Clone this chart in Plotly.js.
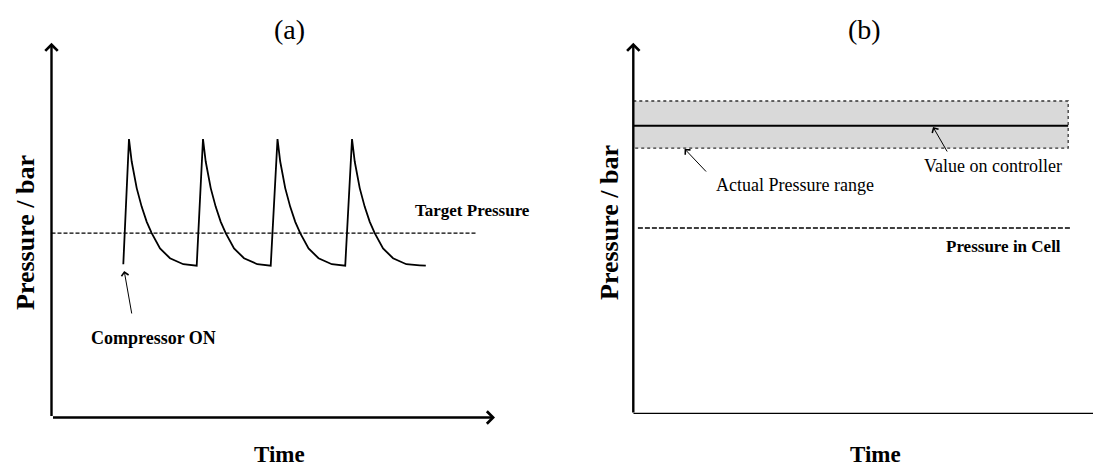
<!DOCTYPE html>
<html>
<head>
<meta charset="utf-8">
<script src="https://cdn.plot.ly/plotly-3.0.1.min.js"></script>
<style>
html,body{margin:0;padding:0;background:#fff;}
#chart{width:1093px;height:470px;}
</style>
</head>
<body>
<div id="chart"></div>
<script>
// ---------- data (arbitrary units) ----------
// Panel (a): pressure cycles of the compressor
const timeA = [16.19, 17.47, 18.08, 19.21, 20.34, 21.47, 22.59, 24.47, 26.72, 29.72, 32.74,
               34.16, 34.77, 35.90, 37.03, 38.16, 39.28, 41.16, 43.41, 46.41, 49.43,
               50.96, 51.57, 52.70, 53.83, 54.96, 56.08, 57.96, 60.21, 63.21, 66.23,
               67.76, 68.37, 69.50, 70.63, 71.76, 72.88, 74.76, 77.01, 80.01, 83.03, 84.40];
const pressureA = [40.9, 74.3, 68.3, 61.2, 56.2, 52.2, 49.2, 45.1, 42.5, 40.9, 40.5,
                   74.3, 68.3, 61.2, 56.2, 52.2, 49.2, 45.1, 42.5, 40.9, 40.5,
                   74.3, 68.3, 61.2, 56.2, 52.2, 49.2, 45.1, 42.5, 40.9, 40.5,
                   74.3, 68.3, 61.2, 56.2, 52.2, 49.2, 45.1, 42.5, 40.9, 40.6, 40.5];
const targetX = [0, 95.7];
const targetY = [49.2, 49.2];

// Panel (b): controller value, actual range, cell pressure
const bandX = [0, 94.6, 94.6, 0, 0];
const bandY = [84.3, 84.3, 71.6, 71.6, 84.3];
const controllerX = [0, 94.6];
const controllerY = [77.6, 77.6];
const cellX = [1.0, 95.4];
const cellY = [50.1, 50.1];

// Texts
const panelTitles = ["(a)", "(b)"];
const xTitle = "Time";
const yTitle = "Pressure / bar";
const labelsA = ["Target Pressure", "Compressor ON"];
const labelsB = ["Value on controller", "Actual Pressure range", "Pressure in Cell"];

// ---------- layout helpers ----------
const W = 1093, H = 470;
const serif = "Liberation Serif, Times New Roman, serif";
function px2paperX(p){ return p / W; }
function px2paperY(p){ return 1 - p / H; }

const traces = [
  {x: timeA, y: pressureA, xaxis: 'x', yaxis: 'y', mode: 'lines',
   line: {color: '#000', width: 1.8}, hoverinfo: 'skip'},
  {x: targetX, y: targetY, xaxis: 'x', yaxis: 'y', mode: 'lines',
   line: {color: '#000', width: 1.2, dash: '4px,2px'}, hoverinfo: 'skip'},
  {x: bandX, y: bandY, xaxis: 'x2', yaxis: 'y2', mode: 'lines', fill: 'toself',
   fillcolor: '#d9d9d9', line: {color: '#333', width: 1.3, dash: 'dot'}, hoverinfo: 'skip'},
  {x: controllerX, y: controllerY, xaxis: 'x2', yaxis: 'y2', mode: 'lines',
   line: {color: '#000', width: 2}, hoverinfo: 'skip'},
  {x: cellX, y: cellY, xaxis: 'x2', yaxis: 'y2', mode: 'lines',
   line: {color: '#000', width: 1.5, dash: '5px,2px'}, hoverinfo: 'skip'}
];

const hiddenAxis = {range: [0, 100], showgrid: false, zeroline: false, showticklabels: false,
                    showline: false, ticks: '', fixedrange: true};

function arrow(xr, yr, x, y, ax, ay, width, size){
  return {xref: xr, yref: yr, axref: xr, ayref: yr, x: x, y: y, ax: ax, ay: ay,
          text: '', showarrow: true, arrowhead: 4, arrowsize: size, arrowwidth: width,
          arrowcolor: '#000', standoff: 0, startstandoff: 0};
}
function label(xr, yr, x, y, text, size, bold, angle){
  return {xref: xr, yref: yr, x: x, y: y, text: text, showarrow: false,
          xanchor: 'center', yanchor: 'middle', textangle: angle || 0,
          font: {family: serif, size: size, color: '#000', weight: bold ? 'bold' : 'normal'}};
}

const annotations = [
  // axes with arrowheads
  arrow('x', 'y', 0, 100, 0, 0, 2.4, 1),
  arrow('x', 'y', 100, 0, 0, 0, 2.4, 1),
  arrow('x2', 'y2', 0, 100, 0, 0, 2.4, 1),
  // pointer arrows
  arrow('x', 'y', 16.39, 39.1, 18.15, 27.35, 1, 1.4),
  arrow('x2', 'y2', 65.2, 77.3, 68.46, 70.3, 1, 1.4),
  arrow('x2', 'y2', 11.16, 71.4, 16.14, 64.9, 1, 1.4),
  // labels
  label('x', 'y', 94.88, 55.1, labelsA[0], 17, true),
  label('x', 'y', 23.0, 21.2, labelsA[1], 18, true),
  label('x2', 'y2', 78.25, 66.8, labelsB[0], 18, false),
  label('x2', 'y2', 35.1, 61.7, labelsB[1], 18, false),
  label('x2', 'y2', 80.6, 45.0, labelsB[2], 17, true),
  // titles
  label('paper', 'paper', px2paperX(289), px2paperY(30), panelTitles[0], 28, false),
  label('paper', 'paper', px2paperX(864), px2paperY(30), panelTitles[1], 28, false),
  label('paper', 'paper', px2paperX(279), px2paperY(454), xTitle, 23, true),
  label('paper', 'paper', px2paperX(875), px2paperY(454), xTitle, 23, true),
  label('paper', 'paper', px2paperX(25), px2paperY(233), yTitle, 26, true, -90),
  label('paper', 'paper', px2paperX(610), px2paperY(223), yTitle, 26, true, -90)
];

const shapes = [
  {type: 'line', xref: 'x2', yref: 'y2', x0: 0, y0: 0, x1: 100, y1: 0,
   line: {color: '#000', width: 2.4}}
];

const layout = {
  width: W, height: H, autosize: false,
  margin: {l: 0, r: 0, t: 0, b: 0},
  paper_bgcolor: '#fff', plot_bgcolor: 'rgba(0,0,0,0)',
  showlegend: false,
  xaxis: Object.assign({}, hiddenAxis, {domain: [51.5 / W, 495 / W], anchor: 'y'}),
  yaxis: Object.assign({}, hiddenAxis, {domain: [(H - 417.5) / H, (H - 42.7) / H], anchor: 'x'}),
  xaxis2: Object.assign({}, hiddenAxis, {domain: [633.3 / W, 1], anchor: 'y2'}),
  yaxis2: Object.assign({}, hiddenAxis, {domain: [(H - 414) / H, (H - 42.7) / H], anchor: 'x2'}),
  annotations: annotations,
  shapes: shapes
};

Plotly.newPlot('chart', traces, layout, {displayModeBar: false, staticPlot: true});
</script>
</body>
</html>
